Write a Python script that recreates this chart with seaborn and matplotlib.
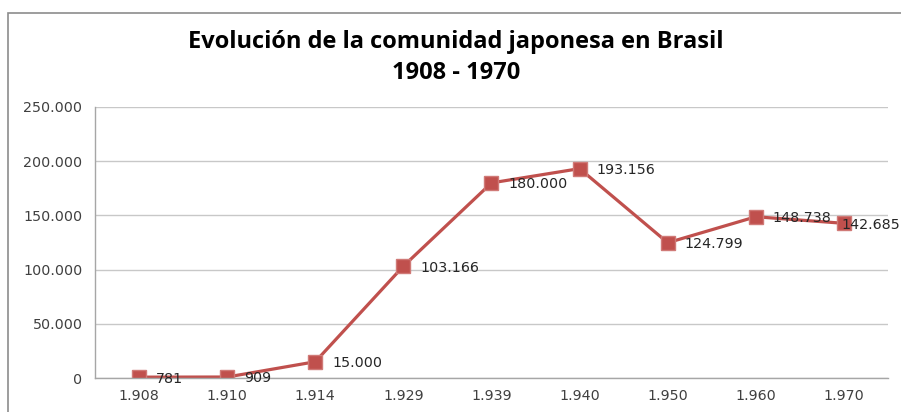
import matplotlib
matplotlib.use("Agg")
import matplotlib.pyplot as plt
import seaborn as sns
import pandas as pd
from matplotlib.patches import Rectangle
from matplotlib.ticker import FuncFormatter

# data
years = ["1.908", "1.910", "1.914", "1.929", "1.939", "1.940", "1.950", "1.960", "1.970"]
population = [781, 909, 15000, 103166, 180000, 193156, 124799, 148738, 142685]
point_labels = ["781", "909", "15.000", "103.166", "180.000", "193.156", "124.799", "148.738", "142.685"]

df = pd.DataFrame({"year": years, "population": population})

sns.set_style("white")
plt.rcParams["font.family"] = ["DejaVu Sans"]

fig = plt.figure(figsize=(9.01, 4.12), dpi=100)
# chart border (cropped on the right and bottom like the original)
fig.patches.append(Rectangle((8 / 901, -0.1), 1.1, 0.1 + (412 - 13) / 412,
                             transform=fig.transFigure, fill=False,
                             edgecolor="#8c8c8c", linewidth=1.2))

ax = fig.add_axes([95 / 901, 34 / 412, 793 / 901, 271 / 412])

red = "#C0504D"
sns.lineplot(data=df, x="year", y="population", ax=ax, color=red, linewidth=2.3,
             marker="s", markersize=10.5, markerfacecolor=red,
             markeredgecolor="#d07a77", markeredgewidth=1, sort=False)

for i, (v, t) in enumerate(zip(population, point_labels)):
    # last label is pushed left so it stays inside the chart, as Excel did
    dx = 12 if i < len(years) - 1 else -2
    ax.annotate(t, (i, v), xytext=(dx, -1), textcoords="offset points",
                ha="left", va="center", fontsize=10.3, color="#262626")

ax.set_xlim(-0.5, len(years) - 0.5)
ax.set_ylim(0, 250000)
ax.set_yticks(range(0, 250001, 50000))
ax.yaxis.set_major_formatter(FuncFormatter(lambda v, p: f"{int(v):,}".replace(",", ".")))
ax.set_xticks(range(len(years)))
ax.set_xticklabels(years)
ax.set_xticks([i - 0.5 for i in range(len(years) + 1)], minor=True)

ax.grid(axis="y", color="#c8c8c8", linewidth=1)
ax.set_axisbelow(True)
for s in ["top", "right"]:
    ax.spines[s].set_visible(False)
for s in ["left", "bottom"]:
    ax.spines[s].set_color("#a6a6a6")
    ax.spines[s].set_linewidth(1)

ax.tick_params(axis="x", which="major", length=0, pad=8, labelsize=10.3, labelcolor="#404040")
ax.tick_params(axis="x", which="minor", length=5, color="#a6a6a6", width=1, direction="out")
ax.tick_params(axis="y", length=5, color="#a6a6a6", width=1, direction="out",
               labelsize=10.3, labelcolor="#404040", pad=4)
ax.set_xlabel("")
ax.set_ylabel("")

title_font = ["Open Sans", "DejaVu Sans"]
fig.text(456 / 901, 1 - 42 / 412, "Evolución de la comunidad japonesa en Brasil",
         ha="center", va="center", fontsize=17, fontweight="bold", color="#000000",
         family=title_font)
fig.text(456 / 901, 1 - 73 / 412, "1908 - 1970",
         ha="center", va="center", fontsize=17, fontweight="bold", color="#000000",
         family=title_font)

fig.savefig("out.png", dpi=100)
